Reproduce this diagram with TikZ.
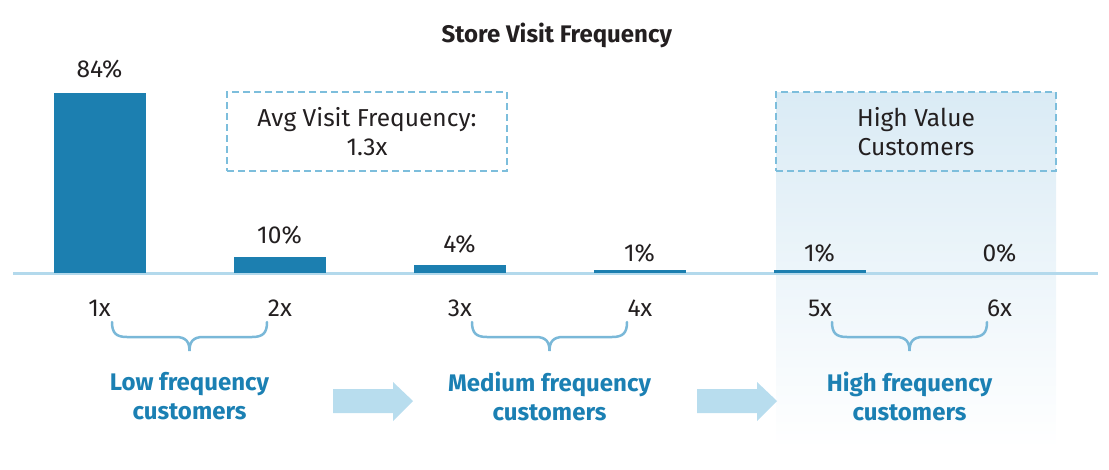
\documentclass[tikz,border=0pt]{standalone}
\usepackage{fontspec}
\setmainfont{Fira Sans}
\usepackage{tikz}
\usetikzlibrary{calc,backgrounds}
\definecolor{barblue}{HTML}{1C7FB0}
\definecolor{axisblue}{HTML}{B3D9EC}
\definecolor{dashblue}{HTML}{7DBEDC}
\definecolor{braceblue}{HTML}{7AB8D8}
\definecolor{arrowblue}{HTML}{B8DDEE}
\definecolor{hvblue}{HTML}{DAEBF5}
\definecolor{groupblue}{HTML}{1B80B3}
\definecolor{inkgrey}{HTML}{231F20}
\newcommand{\barcolor}{barblue}
\newcommand{\textsz}{\fontsize{24.5}{29}\selectfont}
\newcommand{\groupsz}{\fontsize{24}{29}\selectfont}

\begin{document}
\begin{tikzpicture}[x=1pt,y=-1pt,
  val/.style={anchor=base,inner sep=0pt,font=\textsz,text=inkgrey},
  tick/.style={anchor=base,inner sep=0pt,font=\textsz,text=inkgrey},
  infobox/.style={draw=dashblue,line width=2.3pt,dash pattern=on 7pt off 4pt,
    minimum width=280pt,minimum height=79pt,align=center,font=\textsz,text=inkgrey},
  group/.style={align=center,inner sep=0pt,font=\groupsz\bfseries,text=groupblue},
  curly/.style={draw=braceblue,line width=2.5pt,line cap=round},
  flow/.style={fill=arrowblue}]
\useasboundingbox (0,0) rectangle (1109,469);
%high value band
\shade[top color=hvblue,bottom color=white] (776,92) rectangle (1056,448);
%title
\node[anchor=base,inner sep=0pt,font=\fontsize{24}{28}\selectfont\bfseries,text=inkgrey] (title) at (556.8,42.3) {Store Visit Frequency};
%axis
\draw[axisblue,line width=2.5pt] (13,273.3) -- (1098,273.3);
%bars
\fill[\barcolor] (53.5,273) rectangle (145.5,92.7);
\fill[\barcolor] (233.5,273) rectangle (325.5,257);
\fill[\barcolor] (413.5,273) rectangle (505.5,265);
\fill[\barcolor] (593.5,273) rectangle (685.5,270);
\fill[\barcolor] (773.5,273) rectangle (865.5,270);
%values
\node[val] (p1) at (99.5,77) {84\%};
\node[val] (p2) at (279.5,243) {10\%};
\node[val] (p3) at (459.5,252) {4\%};
\node[val] (p4) at (639.5,261) {1\%};
\node[val] (p5) at (819.5,261) {1\%};
\node[val] (p6) at (999.5,261) {0\%};
%boxes
\node[infobox] (avg) at (367,131.5) {Avg Visit Frequency:\\1.3x};
\node[infobox] (hv) at (916,131.5) {High Value\\Customers};
%ticks
\node[tick] (t1) at (99.5,316) {1x};
\node[tick] (t2) at (280,316) {2x};
\node[tick] (t3) at (460,316) {3x};
\node[tick] (t4) at (640,316) {4x};
\node[tick] (t5) at (820,316) {5x};
\node[tick] (t6) at (999.5,316) {6x};
%braces
\draw[curly] (112,322) .. controls (112,333) and (116,337) .. (127,337) -- (176,337) .. controls (186,337) and (189.5,342) .. (189.5,351) .. controls (189.5,342) and (193,337) .. (203,337) -- (252,337) .. controls (263,337) and (267,333) .. (267,322);
\draw[curly] (472,322) .. controls (472,333) and (476,337) .. (487,337) -- (536,337) .. controls (546,337) and (549.5,342) .. (549.5,351) .. controls (549.5,342) and (553,337) .. (563,337) -- (612,337) .. controls (623,337) and (627,333) .. (627,322);
\draw[curly] (832,322) .. controls (832,333) and (836,337) .. (847,337) -- (896,337) .. controls (906,337) and (909.5,342) .. (909.5,351) .. controls (909.5,342) and (913,337) .. (923,337) -- (972,337) .. controls (983,337) and (987,333) .. (987,322);
%groups
\node[group] (low) at (189.5,396) {Low frequency\\customers};
\node[group] (mid) at (549.5,396) {Medium frequency\\customers};
\node[group] (high) at (909.5,396) {High frequency\\customers};
%arrows
\fill[flow] (333,389) -- (393,389) -- (393,382) -- (413,401) -- (393,421) -- (393,413) -- (333,413) -- cycle;
\fill[flow] (697,389) -- (757,389) -- (757,382) -- (777,401) -- (757,421) -- (757,413) -- (697,413) -- cycle;
\end{tikzpicture}
\end{document}
